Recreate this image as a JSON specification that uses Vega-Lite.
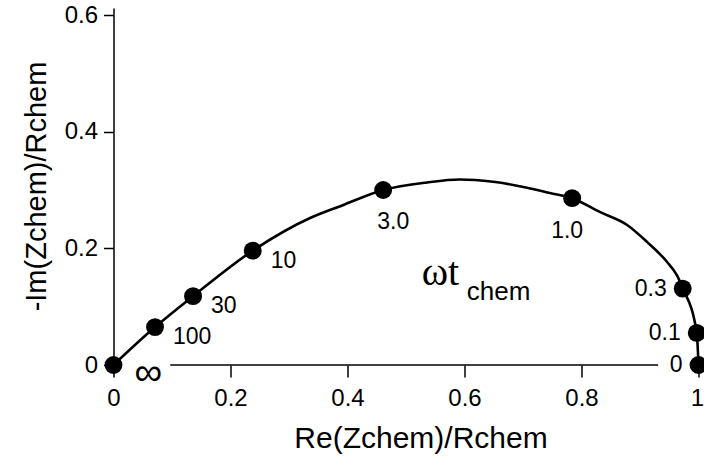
{
  "$schema": "https://vega.github.io/schema/vega-lite/v6.json",
  "width": 585,
  "height": 357,
  "autosize": {"type": "none"},
  "padding": {"left": 113.5, "top": 8, "right": 5.5, "bottom": 99},
  "background": "white",
  "config": {"view": {"stroke": null}, "font": "Liberation Sans"},
  "datasets": {
    "curve": [
      {"x": 0, "y": 0},
      {"x": 0.071, "y": 0.065},
      {"x": 0.136, "y": 0.118},
      {"x": 0.238, "y": 0.196},
      {"x": 0.336, "y": 0.252},
      {"x": 0.392, "y": 0.274},
      {"x": 0.461, "y": 0.300},
      {"x": 0.536, "y": 0.313},
      {"x": 0.592, "y": 0.318},
      {"x": 0.649, "y": 0.314},
      {"x": 0.707, "y": 0.304},
      {"x": 0.746, "y": 0.295},
      {"x": 0.784, "y": 0.286},
      {"x": 0.832, "y": 0.262},
      {"x": 0.878, "y": 0.240},
      {"x": 0.912, "y": 0.211},
      {"x": 0.946, "y": 0.177},
      {"x": 0.963, "y": 0.154},
      {"x": 0.973, "y": 0.132},
      {"x": 0.997, "y": 0.055},
      {"x": 1.0, "y": 0}
    ],
    "points": [
      {"w": "∞", "x": 0, "y": 0},
      {"w": "100", "x": 0.071, "y": 0.065},
      {"w": "30", "x": 0.136, "y": 0.118},
      {"w": "10", "x": 0.238, "y": 0.196},
      {"w": "3.0", "x": 0.461, "y": 0.300},
      {"w": "1.0", "x": 0.784, "y": 0.286},
      {"w": "0.3", "x": 0.973, "y": 0.131},
      {"w": "0.1", "x": 0.997, "y": 0.055},
      {"w": "0", "x": 1.0, "y": 0.0}
    ]
  },
  "layer": [
    {
      "data": {"name": "curve"},
      "mark": {"type": "line", "interpolate": "monotone", "color": "black", "strokeWidth": 2.6},
      "encoding": {
        "x": {
          "field": "x",
          "type": "quantitative",
          "scale": {"domain": [0, 1], "nice": false, "zero": false},
          "axis": {
            "values": [0, 0.2, 0.4, 0.6, 0.8, 1],
            "format": "~g",
            "grid": false,
            "domain": false,
            "ticks": true,
            "tickSize": 12,
            "tickWidth": 1.5,
            "tickColor": "black",
            "labelFlush": false,
            "labelBound": false,
            "labelOverlap": false,
            "labelFontSize": 24,
            "labelColor": "black",
            "labelPadding": 9,
            "labelAlign": {"condition": {"test": "datum.value == 1", "value": "right"}, "value": "center"},
            "labelOffset": {"condition": {"test": "datum.value == 1", "value": 5}, "value": 0},
            "title": "Re(Zchem)/Rchem",
            "titleFontSize": 30,
            "titleFontWeight": "normal",
            "titleColor": "black",
            "titleX": 307,
            "titleY": 82,
            "titleBaseline": "alphabetic",
            "titleAlign": "center"
          }
        },
        "y": {
          "field": "y",
          "type": "quantitative",
          "scale": {"domain": [0, 0.612], "nice": false, "zero": false},
          "axis": {
            "values": [0, 0.2, 0.4, 0.6],
            "format": "~g",
            "grid": false,
            "domain": true,
            "domainColor": "black",
            "domainWidth": 1.5,
            "tickSize": 10,
            "tickWidth": 1.5,
            "tickColor": "black",
            "labelFlush": false,
            "labelBound": false,
            "labelOverlap": false,
            "labelFontSize": 24,
            "labelColor": "black",
            "labelPadding": 6,
            "title": "-Im(Zchem)/Rchem",
            "titleFontSize": 29,
            "titleFontWeight": "normal",
            "titleColor": "black",
            "titleX": -68,
            "titleY": 178,
            "titleAngle": -90,
            "titleBaseline": "alphabetic",
            "titleAlign": "center"
          }
        }
      }
    },
    {
      "data": {"name": "points"},
      "transform": [{"filter": "datum.w == '∞'"}],
      "mark": {"type": "rule", "color": "black", "strokeWidth": 1.5},
      "encoding": {
        "x": {"datum": 0.097, "type": "quantitative"},
        "x2": {"datum": 0.931},
        "y": {"datum": 0, "type": "quantitative"}
      }
    },
    {
      "data": {"name": "points"},
      "mark": {"type": "circle", "size": 320, "color": "black", "opacity": 1},
      "encoding": {
        "x": {"field": "x", "type": "quantitative"},
        "y": {"field": "y", "type": "quantitative"}
      }
    },
    {
      "data": {"name": "points"},
      "transform": [{"filter": "indexof(['100','30','10'], datum.w) >= 0"}],
      "mark": {"type": "text", "align": "left", "baseline": "middle", "dx": 18, "dy": 10, "fontSize": 23, "color": "black"},
      "encoding": {
        "x": {"field": "x", "type": "quantitative"},
        "y": {"field": "y", "type": "quantitative"},
        "text": {"field": "w"}
      }
    },
    {
      "data": {"name": "points"},
      "transform": [{"filter": "datum.w == '∞'"}],
      "mark": {"type": "text", "align": "left", "baseline": "middle", "dx": 21, "dy": 8, "fontSize": 39, "color": "black"},
      "encoding": {
        "x": {"field": "x", "type": "quantitative"},
        "y": {"field": "y", "type": "quantitative"},
        "text": {"field": "w"}
      }
    },
    {
      "data": {"name": "points"},
      "transform": [{"filter": "datum.w == '3.0'"}],
      "mark": {"type": "text", "align": "center", "baseline": "middle", "dx": 10, "dy": 32, "fontSize": 23, "color": "black"},
      "encoding": {
        "x": {"field": "x", "type": "quantitative"},
        "y": {"field": "y", "type": "quantitative"},
        "text": {"field": "w"}
      }
    },
    {
      "data": {"name": "points"},
      "transform": [{"filter": "datum.w == '1.0'"}],
      "mark": {"type": "text", "align": "center", "baseline": "middle", "dx": -5, "dy": 33, "fontSize": 23, "color": "black"},
      "encoding": {
        "x": {"field": "x", "type": "quantitative"},
        "y": {"field": "y", "type": "quantitative"},
        "text": {"field": "w"}
      }
    },
    {
      "data": {"name": "points"},
      "transform": [{"filter": "indexof(['0.3','0.1','0'], datum.w) >= 0"}],
      "mark": {"type": "text", "align": "right", "baseline": "middle", "dx": -16, "dy": 0, "fontSize": 23, "color": "black"},
      "encoding": {
        "x": {"field": "x", "type": "quantitative"},
        "y": {"field": "y", "type": "quantitative"},
        "text": {"field": "w"}
      }
    },
    {
      "data": {"name": "points"},
      "transform": [{"filter": "datum.w == '∞'"}],
      "mark": {"type": "text", "text": "ωt", "font": "Liberation Serif", "fontSize": 40, "align": "left", "baseline": "alphabetic", "color": "black"},
      "encoding": {
        "x": {"datum": 0.527, "type": "quantitative"},
        "y": {"datum": 0.137, "type": "quantitative"}
      }
    },
    {
      "data": {"name": "points"},
      "transform": [{"filter": "datum.w == '∞'"}],
      "mark": {"type": "text", "text": "chem", "fontSize": 26, "align": "left", "baseline": "alphabetic", "color": "black"},
      "encoding": {
        "x": {"datum": 0.604, "type": "quantitative"},
        "y": {"datum": 0.111, "type": "quantitative"}
      }
    }
  ]
}
